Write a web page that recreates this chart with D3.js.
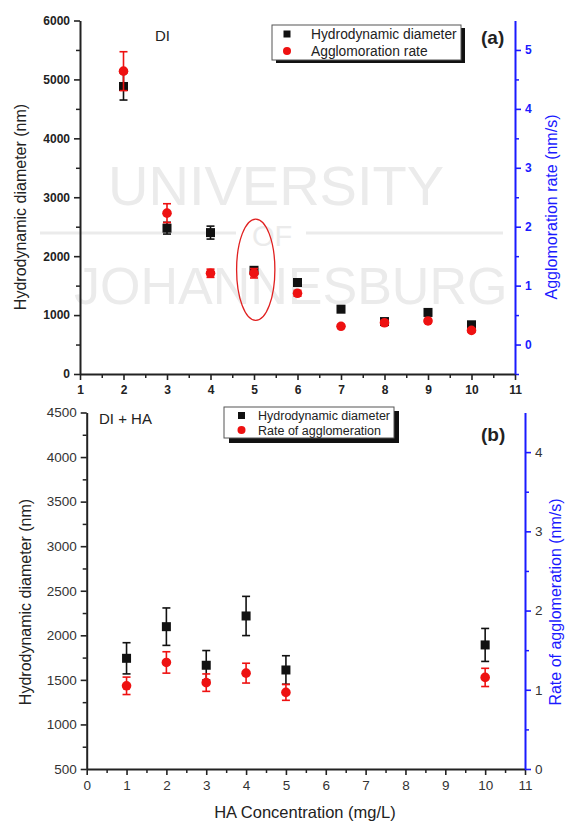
<!DOCTYPE html>
<html>
<head>
<meta charset="utf-8">
<script src="https://cdn.jsdelivr.net/npm/d3@7"></script>
<style>
  body { margin: 0; background: #fff; }
  svg { display: block; font-family: "Liberation Sans", Arial, sans-serif; }
</style>
</head>
<body>
<div id="chart-area"></div>
<script>
// panel (a): DI water
var concA = [2, 3, 4, 5, 6, 7, 8, 9, 10];
var diamA = [4880, 2475, 2400, 1760, 1553, 1100, 890, 1045, 835];
var diamErrA = [230, 100, 110, 60, 50, 30, 30, 30, 30];
var rateA = [4.64, 2.23, 1.21, 1.21, 0.87, 0.31, 0.37, 0.40, 0.24];
var rateErrA = [0.33, 0.16, 0.07, 0.08, 0.05, 0.03, 0.03, 0.03, 0.03];

// panel (b): DI + HA
var concB = [1, 2, 3, 4, 5, 10];
var diamB = [1742, 2097, 1664, 2217, 1611, 1892];
var diamErrB = [175, 210, 165, 220, 160, 185];
var rateB = [1.05, 1.345, 1.09, 1.21, 0.967, 1.156];
var rateErrB = [0.11, 0.135, 0.11, 0.125, 0.1, 0.115];

var ticksA = [1, 2, 3, 4, 5, 6, 7, 8, 9, 10, 11];
var ticksB = [0, 1, 2, 3, 4, 5, 6, 7, 8, 9, 10, 11];

var width = 565, height = 822;
var svg = d3.select('#chart-area').append('svg')
  .attr('width', width)
  .attr('height', height);

// faint watermark behind panel (a)
var wm = svg.append('g').attr('fill', '#ebebeb');
wm.append('text').attr('x', 108).attr('y', 205)
  .attr('font-size', 56).text('UNIVERSITY');
wm.append('text').attr('x', 252).attr('y', 246)
  .attr('font-size', 29).text('OF');
wm.append('line').attr('x1', 40).attr('x2', 236).attr('y1', 233).attr('y2', 233)
  .attr('stroke', '#ebebeb').attr('stroke-width', 3);
wm.append('line').attr('x1', 306).attr('x2', 503).attr('y1', 233).attr('y2', 233)
  .attr('stroke', '#ebebeb').attr('stroke-width', 3);
wm.append('text').attr('x', 74).attr('y', 304)
  .attr('font-size', 52).text('JOHANNESBURG');

function styleAxis(g, color, size, weight, textColor) {
  g.select('.domain').attr('stroke', color).attr('stroke-width', 2);
  g.selectAll('.tick line').attr('stroke', color).attr('stroke-width', 1.6);
  g.selectAll('.tick text').attr('fill', textColor || color).attr('font-size', size)
    .attr('font-weight', weight).attr('font-family', 'Liberation Sans, Arial, sans-serif');
}
function minor(g, color) {
  g.select('.domain').remove();
  g.selectAll('line').attr('stroke', color).attr('stroke-width', 1.5);
}

function errorBars(g, xs, ys, errs, x, y, color) {
  var bars = g.append('g').attr('stroke', color).attr('stroke-width', 1.6);
  xs.forEach((c, i) => {
    var cx = x(c), top = y(ys[i] + errs[i]), bot = y(ys[i] - errs[i]);
    bars.append('line').attr('x1', cx).attr('x2', cx).attr('y1', top).attr('y2', bot);
    bars.append('line').attr('x1', cx - 4).attr('x2', cx + 4).attr('y1', top).attr('y2', top);
    bars.append('line').attr('x1', cx - 4).attr('x2', cx + 4).attr('y1', bot).attr('y2', bot);
  });
}
function squares(g, xs, ys, x, y) {
  g.append('g').selectAll('rect').data(xs).join('rect')
    .attr('x', (d) => x(d) - 4.5).attr('y', (d, i) => y(ys[i]) - 4.5)
    .attr('width', 9).attr('height', 9).attr('fill', '#111');
}
function circles(g, xs, ys, x, y) {
  g.append('g').selectAll('circle').data(xs).join('circle')
    .attr('cx', (d) => x(d)).attr('cy', (d, i) => y(ys[i]))
    .attr('r', 4.8).attr('fill', '#ee1111');
}

// ---------- panel (a) ----------
var xA = d3.scaleLinear().domain([1, 11]).range([80, 515]);
var yA = d3.scaleLinear().domain([0, 6000]).range([374, 20.5]);
var yA2 = d3.scaleLinear().domain([-0.5, 5.5]).range([374, 20.5]);

var gA = svg.append('g');

// minor ticks
gA.append('g').attr('transform', 'translate(0,374)')
  .call(d3.axisBottom(xA).tickValues(d3.range(1.5, 11, 1)).tickSize(4).tickFormat(''))
  .call(g => minor(g, '#222'));
gA.append('g').attr('transform', 'translate(80,0)')
  .call(d3.axisLeft(yA).tickValues(d3.range(500, 6000, 1000)).tickSize(4).tickFormat(''))
  .call(g => minor(g, '#222'));
gA.append('g').attr('transform', 'translate(515,0)')
  .call(d3.axisRight(yA2).tickValues(d3.range(-0.5, 5.5, 1)).tickSize(4).tickFormat(''))
  .call(g => minor(g, '#1a1aff'));

// major ticks
gA.append('g').attr('transform', 'translate(0,374)')
  .call(d3.axisBottom(xA).tickValues(ticksA).tickSize(6).tickSizeOuter(0).tickPadding(5).tickFormat(d3.format('d')))
  .call(g => styleAxis(g, '#222', 12, 'bold'));
gA.append('g').attr('transform', 'translate(80,0)')
  .call(d3.axisLeft(yA).tickValues(d3.range(0, 6001, 1000)).tickSize(6).tickSizeOuter(0).tickPadding(4).tickFormat(d3.format('d')))
  .call(g => styleAxis(g, '#222', 12, 'bold'));
gA.append('g').attr('transform', 'translate(515,0)')
  .call(d3.axisRight(yA2).tickValues([0, 1, 2, 3, 4, 5]).tickSize(6).tickSizeOuter(0).tickPadding(4).tickFormat(d3.format('d')))
  .call(g => styleAxis(g, '#1a1aff', 12, 'bold'));

gA.append('text')
  .attr('transform', 'translate(26,207) rotate(-90)')
  .attr('text-anchor', 'middle').attr('font-size', 16).attr('fill', '#222')
  .text('Hydrodynamic diameter (nm)');
gA.append('text')
  .attr('transform', 'translate(557,207) rotate(-90)')
  .attr('text-anchor', 'middle').attr('font-size', 16).attr('fill', '#1a1aff')
  .text('Agglomoration rate (nm/s)');
gA.append('text').attr('x', 155).attr('y', 41).attr('font-size', 15).attr('fill', '#222').text('DI');
gA.append('text').attr('x', 481).attr('y', 44).attr('font-size', 19).attr('font-weight', 'bold')
  .attr('fill', '#222').text('(a)');

// ellipse around x = 5
gA.append('ellipse')
  .attr('cx', xA(5.04)).attr('cy', yA(1770))
  .attr('rx', xA(5.44) - xA(5)).attr('ry', yA(0) - yA(860))
  .attr('fill', 'none').attr('stroke', '#e02020').attr('stroke-width', 1.3);

errorBars(gA, concA, diamA, diamErrA, xA, yA, '#111');
squares(gA, concA, diamA, xA, yA);
errorBars(gA, concA, rateA, rateErrA, xA, yA2, '#ee1111');
circles(gA, concA, rateA, xA, yA2);

// legend (a)
var legA = gA.append('g');
legA.append('rect').attr('x', 276).attr('y', 28).attr('width', 189).attr('height', 35).attr('fill', '#111');
legA.append('rect').attr('x', 272).attr('y', 25).attr('width', 189).attr('height', 35)
  .attr('fill', '#fff').attr('stroke', '#555').attr('stroke-width', 1);
legA.append('rect').attr('x', 283.5).attr('y', 30.5).attr('width', 7).attr('height', 7).attr('fill', '#111');
legA.append('circle').attr('cx', 287).attr('cy', 51).attr('r', 4).attr('fill', '#ee1111');
legA.append('text').attr('x', 311).attr('y', 39).attr('font-size', 13.8).attr('fill', '#222').text('Hydrodynamic diameter');
legA.append('text').attr('x', 311).attr('y', 56).attr('font-size', 13.8).attr('fill', '#222').text('Agglomoration rate');

// ---------- panel (b) ----------
var xB = d3.scaleLinear().domain([0, 11]).range([86.7, 525]);
var yB = d3.scaleLinear().domain([500, 4500]).range([769, 412.5]);
var yB2 = d3.scaleLinear().domain([0, 4.5]).range([769, 412.5]);

var gB = svg.append('g');

gB.append('g').attr('transform', 'translate(0,769)')
  .call(d3.axisBottom(xB).tickValues(d3.range(0.5, 11, 1)).tickSize(4).tickFormat(''))
  .call(g => minor(g, '#222'));
gB.append('g').attr('transform', 'translate(86.7,0)')
  .call(d3.axisLeft(yB).tickValues(d3.range(750, 4500, 500)).tickSize(4).tickFormat(''))
  .call(g => minor(g, '#222'));
gB.append('g').attr('transform', 'translate(525,0)')
  .call(d3.axisRight(yB2).tickValues([0.5, 1.5, 2.5, 3.5]).tickSize(4).tickFormat(''))
  .call(g => minor(g, '#1a1aff'));

gB.append('g').attr('transform', 'translate(0,769)')
  .call(d3.axisBottom(xB).tickValues(ticksB).tickSize(6).tickSizeOuter(0).tickPadding(5).tickFormat(d3.format('d')))
  .call(g => styleAxis(g, '#222', 13.5, 'normal', '#333'));
gB.append('g').attr('transform', 'translate(86.7,0)')
  .call(d3.axisLeft(yB).tickValues(d3.range(500, 4501, 500)).tickSize(6).tickSizeOuter(0).tickPadding(4).tickFormat(d3.format('d')))
  .call(g => styleAxis(g, '#222', 13.5, 'normal', '#333'));
gB.append('g').attr('transform', 'translate(525,0)')
  .call(d3.axisRight(yB2).tickValues([0, 1, 2, 3, 4]).tickSize(6).tickSizeOuter(0).tickPadding(4).tickFormat(d3.format('d')))
  .call(g => styleAxis(g, '#1a1aff', 13.5, 'normal', '#333'));

gB.append('text')
  .attr('transform', 'translate(31,602) rotate(-90)')
  .attr('text-anchor', 'middle').attr('font-size', 16).attr('fill', '#222')
  .text('Hydrodynamic diameter (nm)');
gB.append('text')
  .attr('transform', 'translate(561,602) rotate(-90)')
  .attr('text-anchor', 'middle').attr('font-size', 16).attr('fill', '#1a1aff')
  .text('Rate of agglomeration (nm/s)');
gB.append('text').attr('x', 305).attr('y', 818).attr('text-anchor', 'middle')
  .attr('font-size', 16.5).attr('fill', '#222').text('HA Concentration (mg/L)');
gB.append('text').attr('x', 99).attr('y', 424).attr('font-size', 15).attr('fill', '#222').text('DI + HA');
gB.append('text').attr('x', 481).attr('y', 441).attr('font-size', 19).attr('font-weight', 'bold')
  .attr('fill', '#222').text('(b)');

errorBars(gB, concB, diamB, diamErrB, xB, yB, '#111');
squares(gB, concB, diamB, xB, yB);
errorBars(gB, concB, rateB, rateErrB, xB, yB2, '#ee1111');
circles(gB, concB, rateB, xB, yB2);

// legend (b)
var legB = gB.append('g');
legB.append('rect').attr('x', 229).attr('y', 411).attr('width', 170).attr('height', 32).attr('fill', '#111');
legB.append('rect').attr('x', 224).attr('y', 407).attr('width', 170).attr('height', 31)
  .attr('fill', '#fff').attr('stroke', '#555').attr('stroke-width', 1);
legB.append('rect').attr('x', 238).attr('y', 412).attr('width', 7).attr('height', 7).attr('fill', '#111');
legB.append('circle').attr('cx', 241.5).attr('cy', 430).attr('r', 4).attr('fill', '#ee1111');
legB.append('text').attr('x', 258).attr('y', 420).attr('font-size', 12.5).attr('fill', '#222').text('Hydrodynamic diameter');
legB.append('text').attr('x', 258).attr('y', 435).attr('font-size', 12.5).attr('fill', '#222').text('Rate of agglomeration');
</script>
</body>
</html>
